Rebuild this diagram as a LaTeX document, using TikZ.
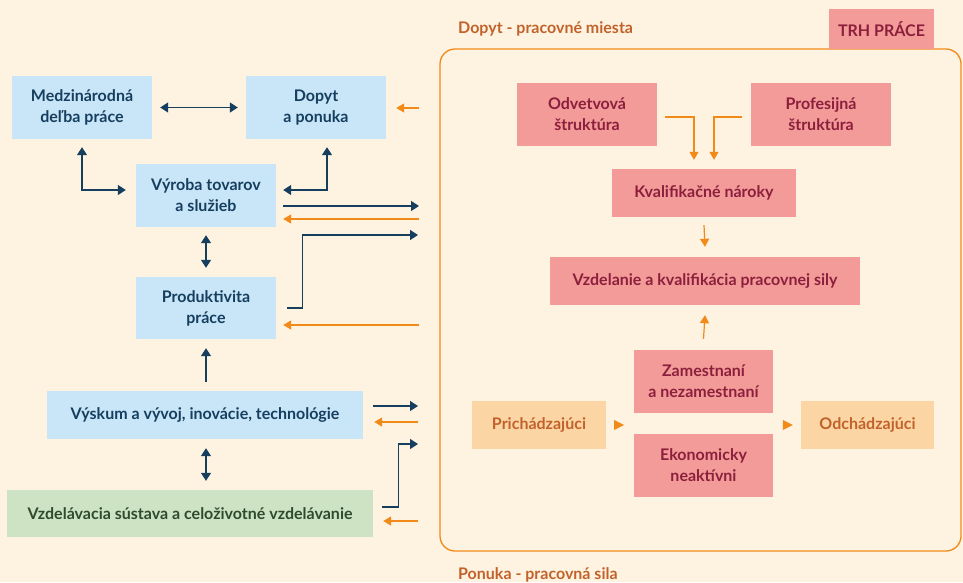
\documentclass[tikz,border=0pt]{standalone}
\usepackage{fontspec}
\setmainfont{Lato}
\usetikzlibrary{arrows.meta}
\definecolor{bgc}{HTML}{FEF3E0}
\definecolor{bluec}{HTML}{C9E6F8}
\definecolor{navyc}{HTML}{163E5E}
\definecolor{greenc}{HTML}{CDE3C4}
\definecolor{greentx}{HTML}{2F4A2C}
\definecolor{pinkc}{HTML}{F29B99}
\definecolor{pinktx}{HTML}{8C1F3C}
\definecolor{peachc}{HTML}{FCD5A5}
\definecolor{peachtx}{HTML}{C2622B}
\definecolor{orangec}{HTML}{F28A1A}
\tikzset{
  box/.style={rectangle, inner sep=0pt, align=center, font=\bfseries\fontsize{16}{21}\selectfont},
  bluebox/.style={box, fill=bluec, text=navyc},
  greenbox/.style={box, fill=greenc, text=greentx},
  pinkbox/.style={box, fill=pinkc, text=pinktx},
  peachbox/.style={box, fill=peachc, text=peachtx},
  navarr/.style={draw=navyc, line width=1.4pt, -{Triangle[length=8pt,width=10pt]}},
  navarrr/.style={draw=navyc, line width=1.4pt, {Triangle[length=8pt,width=10pt]}-{Triangle[length=8pt,width=10pt]}},
  orarr/.style={draw=orangec, line width=1.2pt, -{Triangle[length=8pt,width=9pt]}},
  heading/.style={anchor=west, inner sep=0pt, text=peachtx, font=\bfseries\fontsize{16}{18}\selectfont},
}
\begin{document}
\begin{tikzpicture}[x=1pt,y=-1pt]
\fill[bgc] (0,0) rectangle (963,582);
\useasboundingbox (0,0) rectangle (963,582);
% frame
\node[draw=orangec, line width=1.3pt, rounded corners=15pt, minimum width=521pt, minimum height=502pt, inner sep=0pt] (frame) at (700.5,300) {};
\node[pinkbox, minimum width=105pt, minimum height=40pt] (trh) at (881.5,29) {TRH PRÁCE};
\node[heading] (hd) at (458,29) {Dopyt - pracovné miesta};
\node[heading] (hp) at (458,575) {Ponuka - pracovná sila};
% left boxes
\node[bluebox, minimum width=140pt, minimum height=63pt] (medz) at (82,107.5) {Medzinárodná\\deľba práce};
\node[bluebox, minimum width=140pt, minimum height=63pt] (dop) at (316,107.5) {Dopyt\\a ponuka};
\node[bluebox, minimum width=140pt, minimum height=63pt] (vyr) at (206,195.5) {Výroba tovarov\\a služieb};
\node[bluebox, minimum width=140pt, minimum height=62pt] (prod) at (206,308) {Produktivita\\práce};
\node[bluebox, minimum width=316pt, minimum height=48pt] (vysk) at (205,415) {Výskum a vývoj, inovácie, technológie};
\node[greenbox, minimum width=366pt, minimum height=47pt] (vzdel) at (190,513.5) {Vzdelávacia sústava a celoživotné vzdelávanie};
% right boxes
\node[pinkbox, minimum width=140pt, minimum height=63pt] (odv) at (587,114.5) {Odvetvová\\štruktúra};
\node[pinkbox, minimum width=140pt, minimum height=63pt] (prof) at (821,114.5) {Profesijná\\štruktúra};
\node[pinkbox, minimum width=184pt, minimum height=48pt] (kval) at (704,193) {Kvalifikačné nároky};
\node[pinkbox, minimum width=310pt, minimum height=48pt] (vzd) at (705,281) {Vzdelanie a kvalifikácia pracovnej sily};
\node[pinkbox, minimum width=139pt, minimum height=63pt] (zam) at (703.5,381.5) {Zamestnaní\\a nezamestnaní};
\node[pinkbox, minimum width=139pt, minimum height=63pt] (eko) at (703.5,465.5) {Ekonomicky\\neaktívni};
\node[peachbox, minimum width=134pt, minimum height=48pt] (prich) at (539,425) {Prichádzajúci};
\node[peachbox, minimum width=133pt, minimum height=48pt] (odch) at (867.5,425) {Odchádzajúci};
% free ends
\coordinate (e1) at (419,108);
\coordinate (e2) at (419,206);
\coordinate (e3) at (419,219);
\coordinate (e4) at (418,235);
\coordinate (e5) at (419,325);
\coordinate (e6) at (418,406);
\coordinate (e7) at (418,422);
\coordinate (e8) at (418,444);
\coordinate (e9) at (418,521);
% left connectors
\draw[navarrr] ([xshift=8pt]medz.east) -- ([xshift=-8pt]dop.west);
\draw[orarr] (e1) -- ([xshift=10pt]dop.east |- e1);
\draw[navarrr] ([yshift=-8pt]medz.south) |- ([xshift=-10pt,yshift=5.5pt]vyr.west);
\draw[navarrr] ([xshift=11pt,yshift=-8pt]dop.south) |- ([xshift=7pt,yshift=5.5pt]vyr.east);
\draw[navarr] ([xshift=7pt]vyr.east |- e2) -- (e2);
\draw[orarr] (e3) -- ([xshift=7pt]vyr.east |- e3);
\draw[navarr] ([xshift=11pt]prod.east) -- ++(15,0) |- (e4);
\draw[orarr] (e5) -- ([xshift=7pt]prod.east |- e5);
\draw[navarrr] ([yshift=-8pt]vyr.south) -- ([yshift=9pt]prod.north);
\draw[navarr] ([xshift=1pt,yshift=9pt]vysk.north) -- ([yshift=-9pt]prod.south);
\draw[navarrr] ([xshift=1pt,yshift=-9pt]vysk.south) -- ([xshift=16pt,yshift=9pt]vzdel.north);
\draw[navarr] ([xshift=10pt]vysk.east |- e6) -- (e6);
\draw[orarr] (e7) -- ([xshift=11pt]vysk.east |- e7);
\draw[navarr] ([xshift=9pt,yshift=6.5pt]vzdel.east) -- ++(16,0) |- (e8);
\draw[orarr] (e9) -- ([xshift=10pt]vzdel.east |- e9);
% right connectors
\draw[orarr] ([xshift=8pt,yshift=-2.5pt]odv.east) -| ([xshift=-10pt,yshift=9pt]kval.north);
\draw[orarr] ([xshift=-9pt,yshift=-2.5pt]prof.west) -| ([xshift=10pt,yshift=9pt]kval.north);
\draw[orarr] ([yshift=-8pt]kval.south) -- ([yshift=10pt]vzd.north);
\draw[orarr] ([yshift=11pt]zam.north) -- ([yshift=-10pt]vzd.south);
\fill[orangec] ([xshift=8pt,yshift=5pt]prich.east) -- ([xshift=18pt]prich.east) -- ([xshift=8pt,yshift=-5pt]prich.east) -- cycle;
\fill[orangec] ([xshift=-18pt,yshift=5pt]odch.west) -- ([xshift=-8pt]odch.west) -- ([xshift=-18pt,yshift=-5pt]odch.west) -- cycle;
\end{tikzpicture}
\end{document}
